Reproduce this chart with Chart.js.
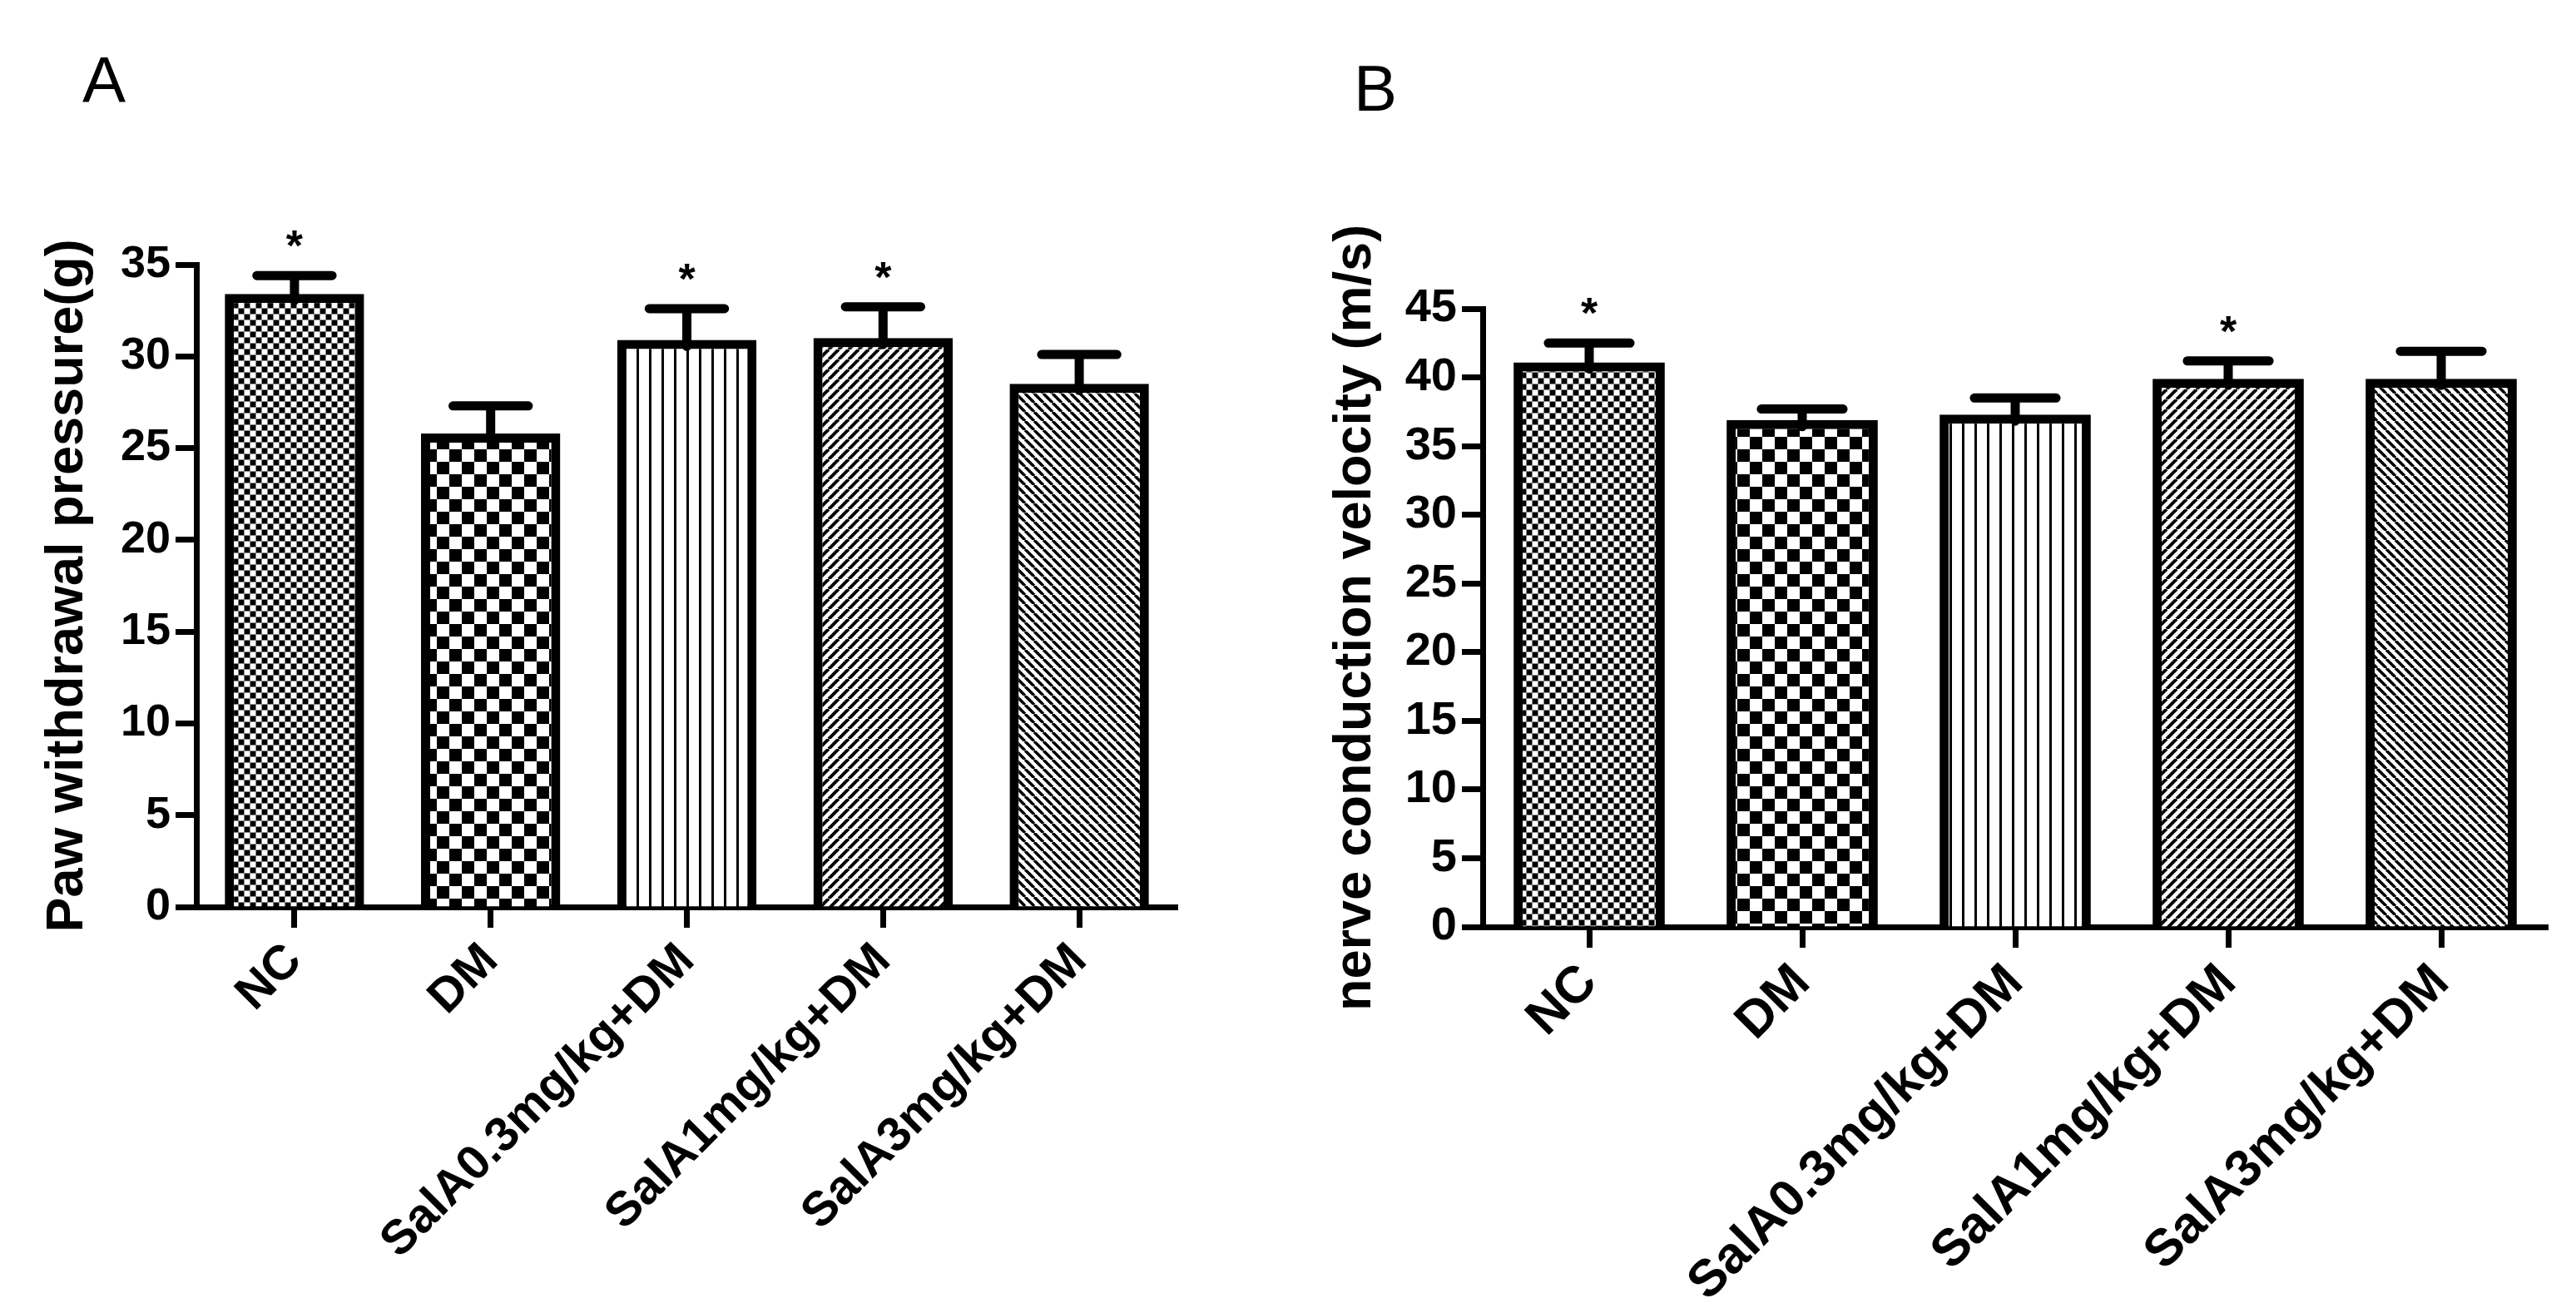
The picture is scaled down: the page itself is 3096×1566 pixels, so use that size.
<!DOCTYPE html>
<html>
<head>
<meta charset="utf-8">
<title>Paw withdrawal pressure and nerve conduction velocity</title>
<script src="https://cdn.jsdelivr.net/npm/chart.js@4.4.0/dist/chart.umd.min.js"></script>
<style>
  html, body { margin: 0; padding: 0; background: #fff; }
  body { width: 3096px; height: 1566px; position: relative; overflow: hidden;
         font-family: "Liberation Sans", Arial, sans-serif; }
  .panel { position: absolute; top: 0; width: 1548px; height: 1566px; }
  .tag { position: absolute; font-size: 78px; line-height: 1; color: #000; }
</style>
</head>
<body>
<div class="tag" style="left:99px;top:57px">A</div>
<div class="tag" style="left:1627px;top:67px">B</div>
<div class="panel" style="left:0"><canvas id="chartA" width="1548" height="1566"></canvas></div>
<div class="panel" style="left:1548px"><canvas id="chartB" width="1548" height="1566"></canvas></div>

<script>
// Data

const groups = ["NC", "DM", "SalA0.3mg/kg+DM", "SalA1mg/kg+DM", "SalA3mg/kg+DM"];

// A: paw withdrawal pressure (g), mean and SEM
const pawMean = [33.4, 25.8, 30.9, 31.0, 28.5];
const pawSem = [1.0, 1.5, 1.7, 1.7, 1.6];
const pawStar = [true, false, true, true, false];

// B: nerve conduction velocity (m/s), mean and SEM
const ncvMean = [41.1, 36.9, 37.3, 39.9, 39.9];
const ncvSem = [1.4, 0.8, 1.2, 1.3, 2.0];
const ncvStar = [true, false, false, true, false];

const pawMax = 35;
const ncvMax = 45;
const tickStep = 5;

const FONT = "'Liberation Sans', Arial, sans-serif";

// Fill patterns (one per group)

function tile(w, h, draw) {
  const c = document.createElement("canvas");
  c.width = w;
  c.height = h;
  const g = c.getContext("2d");
  g.fillStyle = "#fff";
  g.fillRect(0, 0, w, h);
  g.fillStyle = "#000";
  g.strokeStyle = "#000";
  draw(g, w, h);
  return c;
}

const tiles = [
  // fine checker
  tile(14, 14, (g) => {
    g.fillRect(0, 0, 6, 6);
    g.fillRect(7, 7, 6, 6);
    g.fillStyle = "#8a8a8a";
    g.fillRect(6, 0, 1, 14);
    g.fillRect(13, 0, 1, 14);
    g.fillRect(0, 6, 14, 1);
    g.fillRect(0, 13, 14, 1);
  }),
  // coarse checker
  tile(30, 30, (g) => {
    g.fillRect(0, 0, 15, 15);
    g.fillRect(15, 15, 15, 15);
  }),
  // vertical stripes
  tile(15, 15, (g) => {
    g.fillRect(0, 0, 3, 15);
  }),
  // forward diagonal
  tile(12, 12, (g, s) => {
    g.lineWidth = 4;
    for (let k = -1; k <= 1; k++) {
      g.beginPath();
      g.moveTo(k * s, s);
      g.lineTo(k * s + s, 0);
      g.stroke();
    }
  }),
  // back diagonal
  tile(11, 11, (g, s) => {
    g.lineWidth = 3.5;
    for (let k = -1; k <= 1; k++) {
      g.beginPath();
      g.moveTo(k * s, 0);
      g.lineTo(k * s + s, s);
      g.stroke();
    }
  }),
];

// Error bars and significance stars

const errorBars = {
  id: "errorBars",
  afterDatasetsDraw(chart, args, opts) {
    const ctx = chart.ctx;
    const yScale = chart.scales.y;
    const meta = chart.getDatasetMeta(0);
    ctx.save();
    ctx.strokeStyle = "#000";
    ctx.fillStyle = "#000";
    ctx.lineWidth = 11;
    ctx.lineCap = "round";
    ctx.font = "bold 52px " + FONT;
    ctx.textAlign = "center";
    ctx.textBaseline = "alphabetic";
    meta.data.forEach((bar, i) => {
      const top = yScale.getPixelForValue(opts.mean[i] + opts.sem[i]);
      const half = bar.width * 0.27;
      ctx.beginPath();
      ctx.moveTo(bar.x, bar.y + 8);
      ctx.lineTo(bar.x, top);
      ctx.moveTo(bar.x - half, top);
      ctx.lineTo(bar.x + half, top);
      ctx.stroke();
      if (opts.star[i]) {
        ctx.fillText("*", bar.x, top - 18);
      }
    });
    ctx.restore();
  },
};

function drawPanel(id, mean, sem, star, yMax, title, box) {
  const canvas = document.getElementById(id);
  const ctx = canvas.getContext("2d");
  const fills = tiles.map((t) => ctx.createPattern(t, "repeat"));

  return new Chart(canvas, {
    type: "bar",
    data: {
      labels: groups,
      datasets: [
        {
          data: mean,
          backgroundColor: fills,
          borderColor: "#000",
          borderWidth: 11,
          barPercentage: 0.71,
          categoryPercentage: 1,
        },
      ],
    },
    options: {
      responsive: false,
      devicePixelRatio: 1,
      animation: false,
      layout: { padding: { left: 0, top: box.top, right: box.right, bottom: 0 } },
      plugins: {
        legend: { display: false },
        tooltip: { enabled: false },
        errorBars: { mean: mean, sem: sem, star: star },
      },
      scales: {
        x: {
          offset: true,
          z: 1,
          grid: {
            offset: false,
            drawOnChartArea: false,
            tickLength: 25,
            tickWidth: 7,
            tickColor: "#000",
          },
          border: { display: true, color: "#000", width: 7 },
          ticks: {
            color: "#000",
            autoSkip: false,
            minRotation: 45,
            maxRotation: 45,
            padding: 6,
            font: { family: FONT, size: box.labelSize, weight: "bold" },
          },
          afterFit(scale) {
            scale.height = box.xh;
          },
        },
        y: {
          min: 0,
          max: yMax,
          grid: {
            drawOnChartArea: false,
            tickLength: 25,
            tickWidth: 7,
            tickColor: "#000",
          },
          border: { display: true, color: "#000", width: 7 },
          ticks: {
            stepSize: tickStep,
            color: "#000",
            padding: 6,
            font: { family: FONT, size: box.tickSize, weight: "bold" },
          },
          title: {
            display: true,
            text: title,
            color: "#000",
            padding: { top: 44, bottom: 0 },
            font: { family: FONT, size: 63, weight: "bold", lineHeight: 1.2 },
          },
          afterFit(scale) {
            scale.width = box.yw;
          },
        },
      },
    },
    plugins: [errorBars],
  });
}

drawPanel("chartA", pawMean, pawSem, pawStar, pawMax, "Paw withdrawal pressure(g)",
  { top: 318, right: 133, yw: 236, xh: 476, labelSize: 58, tickSize: 54 });

drawPanel("chartB", ncvMean, ncvSem, ncvStar, ncvMax, "nerve conduction velocity (m/s)",
  { top: 371, right: 34, yw: 234, xh: 452, labelSize: 62, tickSize: 56 });
</script>
</body>
</html>
